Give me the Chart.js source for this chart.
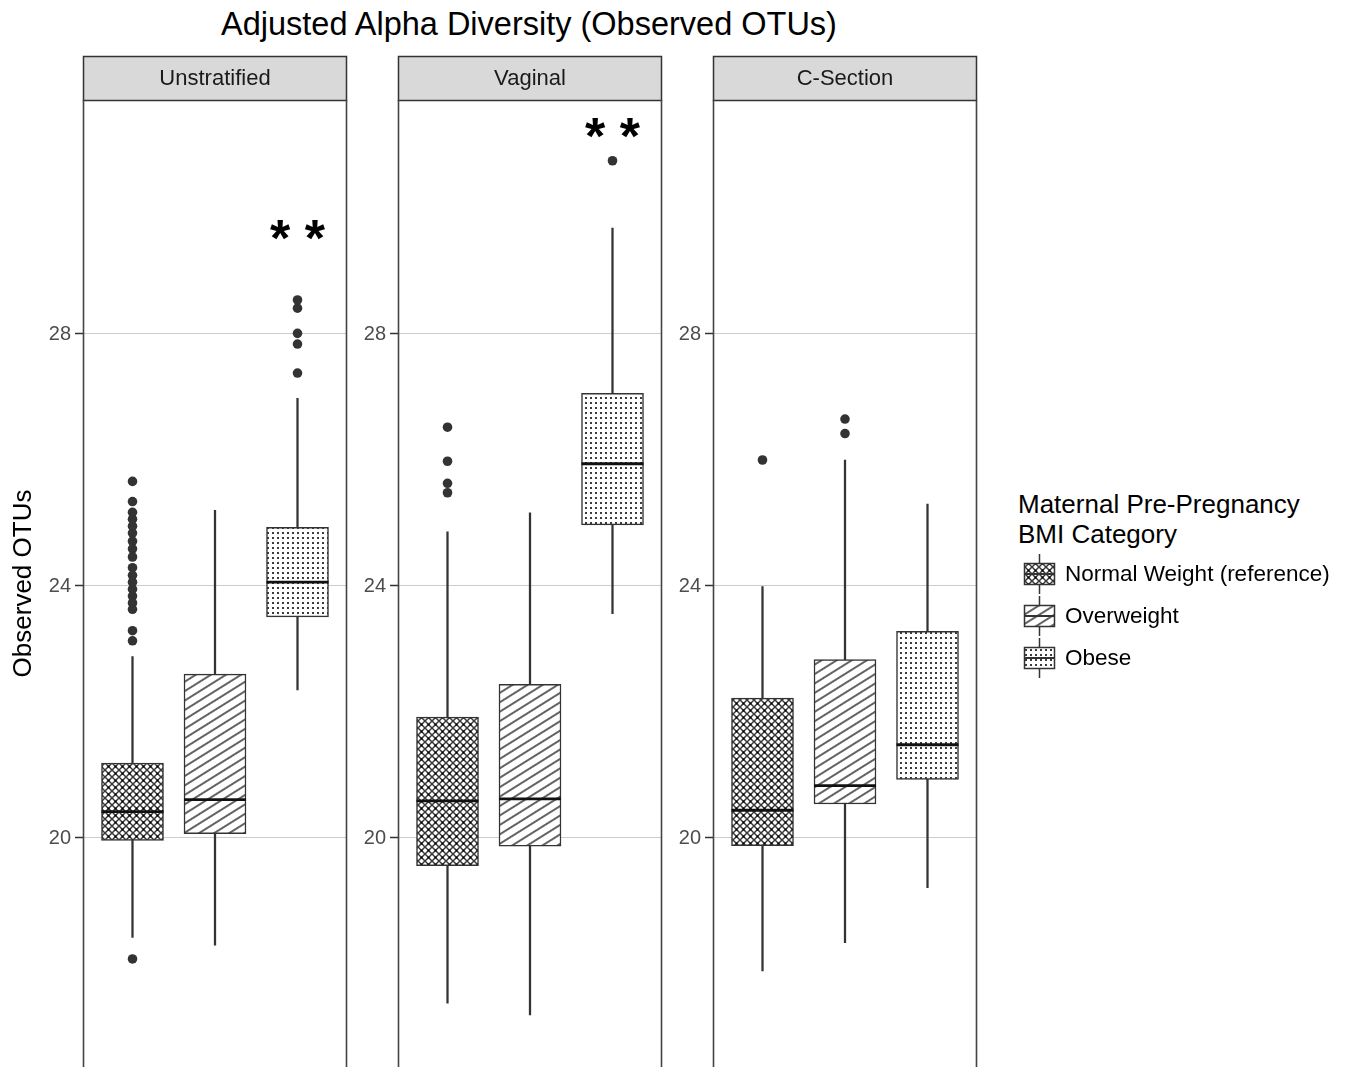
<!DOCTYPE html>
<html>
<head>
<meta charset="utf-8">
<title>Adjusted Alpha Diversity (Observed OTUs)</title>
<script src="https://cdn.jsdelivr.net/npm/chart.js@4.4.1/dist/chart.umd.min.js"></script>
<style>
  body { margin: 0; background: #fff; overflow: hidden; font-family: "Liberation Sans", Arial, sans-serif; }
  #page { position: relative; width: 1347px; height: 1067px; }
  .panel { position: absolute; top: 0; }
  #title { position: absolute; left: 0; top: 5px; width: 1058px; text-align: center; font-size: 32.5px; line-height: 38px; color: #000; }
  #legend { position: absolute; left: 1018px; top: 489px; color: #000; }
  #legend .ltitle { font-size: 26px; line-height: 30px; }
  #legend .row { display: flex; align-items: center; height: 42px; font-size: 22.5px; }
  #legend .row:first-of-type { margin-top: 4px; }
  #legend canvas { margin-right: 7px; }
</style>
</head>
<body>
<div id="page">
  <div id="title">Adjusted Alpha Diversity (Observed OTUs)</div>
  <div id="legend">
    <div class="ltitle">Maternal Pre-Pregnancy<br>BMI Category</div>
    <div id="items"></div>
  </div>
</div>
<script>
const panels = ['Unstratified', 'Vaginal', 'C-Section'];
const groups = ['Normal Weight (reference)', 'Overweight', 'Obese'];
const yTicks = [20, 24, 28];

// one row per panel, one value per BMI group
const q1 = [[19.96, 20.07, 23.51], [19.56, 19.87, 24.97], [19.88, 20.54, 20.93]];
const median = [[20.42, 20.61, 24.06], [20.59, 20.62, 25.94], [20.44, 20.83, 21.48]];
const q3 = [[21.19, 22.60, 24.93], [21.92, 22.44, 27.06], [22.22, 22.83, 23.28]];
const whiskerLow = [[18.42, 18.30, 22.35], [17.38, 17.19, 23.56], [17.89, 18.34, 19.21]];
const whiskerHigh = [[22.88, 25.20, 26.98], [24.86, 25.16, 29.68], [23.99, 26.00, 25.30]];
const outliers = [
  [[18.08, 23.13, 23.29, 23.63, 23.73, 23.84, 23.95, 24.06, 24.17, 24.29, 24.46, 24.59, 24.71,
    24.84, 24.95, 25.06, 25.17, 25.34, 25.66], [], [27.38, 27.84, 28.01, 28.41, 28.54]],
  [[25.48, 25.63, 25.98, 26.52], [], [30.75]],
  [[26.00], [26.42, 26.65], []]
];
const sigLabels = ['* *', '* *', ''];
const sigY = [29.62, 31.25, null];

const panelLeft = [83, 398, 713];
const panelWidth = 264;
const axisWidth = [83, 50, 50];
const ink = '#333333';

function makePattern(ctx, kind) {
  const t = document.createElement('canvas');
  const g = t.getContext('2d');
  if (kind === 0) {
    t.width = t.height = 7;
    g.fillStyle = '#fff'; g.fillRect(0, 0, 7, 7);
    g.strokeStyle = '#3a3a3a'; g.lineWidth = 1.5;
    g.beginPath();
    g.moveTo(-1, -1); g.lineTo(8, 8);
    g.moveTo(8, -1); g.lineTo(-1, 8);
    g.stroke();
    g.fillStyle = '#000';
    g.fillRect(2.5, 2.5, 2, 2);
    return ctx.createPattern(t, 'repeat');
  }
  if (kind === 1) {
    t.width = 8; t.height = 8;
    g.fillStyle = '#fff'; g.fillRect(0, 0, 8, 8);
    g.fillStyle = '#222'; g.fillRect(3.3, 0, 1.4, 8);
    const pat = ctx.createPattern(t, 'repeat');
    pat.setTransform(new DOMMatrix().rotate(58));
    return pat;
  }
  t.width = t.height = 5;
  g.fillStyle = '#fff'; g.fillRect(0, 0, 5, 5);
  g.fillStyle = '#3c3c3c'; g.fillRect(2, 2, 2, 2);
  return ctx.createPattern(t, 'repeat');
}

const panelFrame = {
  id: 'panelFrame',
  afterDatasetsDraw(chart, args, opts) {
    const { ctx, scales } = chart;
    if (opts.stars && opts.starY != null) {
      ctx.save();
      ctx.fillStyle = '#000';
      ctx.font = 'bold 52px "Liberation Sans", Arial, sans-serif';
      ctx.textAlign = 'center';
      ctx.textBaseline = 'middle';
      ctx.fillText(opts.stars, scales.x.getPixelForValue(3), scales.y.getPixelForValue(opts.starY) + 10);
      ctx.restore();
    }
  },
  afterDraw(chart, args, opts) {
    const { ctx, chartArea: a } = chart;
    ctx.save();
    // strip
    ctx.fillStyle = '#d9d9d9';
    ctx.fillRect(a.left, 56, a.right - a.left, a.top - 56);
    ctx.strokeStyle = ink;
    ctx.lineWidth = 1.5;
    ctx.strokeRect(a.left + 0.5, 56.5, a.right - a.left - 1, a.top - 56);
    ctx.fillStyle = '#1a1a1a';
    ctx.font = '22px "Liberation Sans", Arial, sans-serif';
    ctx.textAlign = 'center';
    ctx.textBaseline = 'middle';
    ctx.fillText(opts.label, (a.left + a.right) / 2, 79);
    // frame
    ctx.strokeStyle = '#444';
    ctx.lineWidth = 1.6;
    ctx.beginPath();
    ctx.moveTo(a.left + 0.5, a.top); ctx.lineTo(a.left + 0.5, a.bottom);
    ctx.moveTo(a.right - 0.5, a.top); ctx.lineTo(a.right - 0.5, a.bottom);
    ctx.stroke();
    ctx.restore();
  }
};

const page = document.getElementById('page');

panels.forEach((name, p) => {
  const wrap = document.createElement('div');
  wrap.className = 'panel';
  wrap.style.left = (panelLeft[p] - axisWidth[p]) + 'px';
  const canvas = document.createElement('canvas');
  canvas.width = axisWidth[p] + panelWidth + 2;
  canvas.height = 1067;
  wrap.appendChild(canvas);
  page.appendChild(wrap);
  const ctx = canvas.getContext('2d');
  const fills = groups.map((g, i) => makePattern(ctx, i));

  new Chart(canvas, {
    type: 'bar',
    data: {
      datasets: [
        {
          type: 'scatter',
          data: median[p].map((v, i) => ({ x: i + 1, y: v })),
          pointStyle: 'line',
          pointRadius: 31,
          pointHoverRadius: 31,
          pointBorderColor: '#111',
          pointBorderWidth: 2.8,
          order: 0
        },
        {
          data: groups.map((g, i) => ({ x: i + 1, y: [q1[p][i], q3[p][i]] })),
          backgroundColor: fills,
          borderColor: ink,
          borderWidth: 1.5,
          borderSkipped: false,
          barThickness: 62,
          grouped: false,
          order: 1
        },
        {
          data: groups.map((g, i) => ({ x: i + 1, y: [whiskerLow[p][i], whiskerHigh[p][i]] })),
          backgroundColor: ink,
          borderWidth: 0,
          barThickness: 1.6,
          grouped: false,
          order: 2
        },
        {
          type: 'scatter',
          data: outliers[p].flatMap((arr, i) => arr.map(v => ({ x: i + 1, y: v }))),
          pointRadius: 4.8,
          pointBackgroundColor: ink,
          pointBorderWidth: 0,
          order: 3
        }
      ]
    },
    options: {
      responsive: false,
      animation: false,
      events: [],
      layout: { autoPadding: false, padding: { top: 100, right: 2, bottom: 0, left: 0 } },
      scales: {
        x: { type: 'linear', min: 0.4, max: 3.6, offset: false, bounds: 'data', display: false },
        y: {
          min: 16.365,
          max: 31.714,
          afterBuildTicks: s => { s.ticks = yTicks.map(v => ({ value: v })); },
          afterFit: s => {
            s.width = axisWidth[p];
            s.paddingTop = 0; s.paddingBottom = 0;
          },
          ticks: {
            color: '#4d4d4d',
            padding: 4,
            font: { family: '"Liberation Sans", Arial, sans-serif', size: 20 }
          },
          grid: { color: '#cccccc', lineWidth: 1, tickLength: 8, tickColor: ink, tickWidth: 1.5 },
          border: { display: false },
          title: {
            display: p === 0,
            text: 'Observed OTUs',
            color: '#000',
            padding: { top: 8, bottom: 0 },
            font: { family: '"Liberation Sans", Arial, sans-serif', size: 26 }
          }
        }
      },
      plugins: {
        legend: { display: false },
        tooltip: { enabled: false },
        panelFrame: { label: name, stars: sigLabels[p], starY: sigY[p] }
      }
    },
    plugins: [panelFrame]
  });
});

// legend
const items = document.getElementById('items');
groups.forEach((g, i) => {
  const row = document.createElement('div');
  row.className = 'row';
  const key = document.createElement('canvas');
  key.width = 40; key.height = 42;
  const k = key.getContext('2d');
  k.strokeStyle = ink;
  k.lineWidth = 1.5;
  k.beginPath(); k.moveTo(21.5, 1); k.lineTo(21.5, 41); k.stroke();
  k.fillStyle = makePattern(k, i);
  k.fillRect(6, 10, 31, 22);
  k.strokeRect(6.5, 10.5, 30, 21);
  k.lineWidth = 2;
  k.beginPath(); k.moveTo(6, 21); k.lineTo(37, 21); k.stroke();
  const label = document.createElement('span');
  label.textContent = g;
  row.appendChild(key);
  row.appendChild(label);
  items.appendChild(row);
});
</script>
</body>
</html>
